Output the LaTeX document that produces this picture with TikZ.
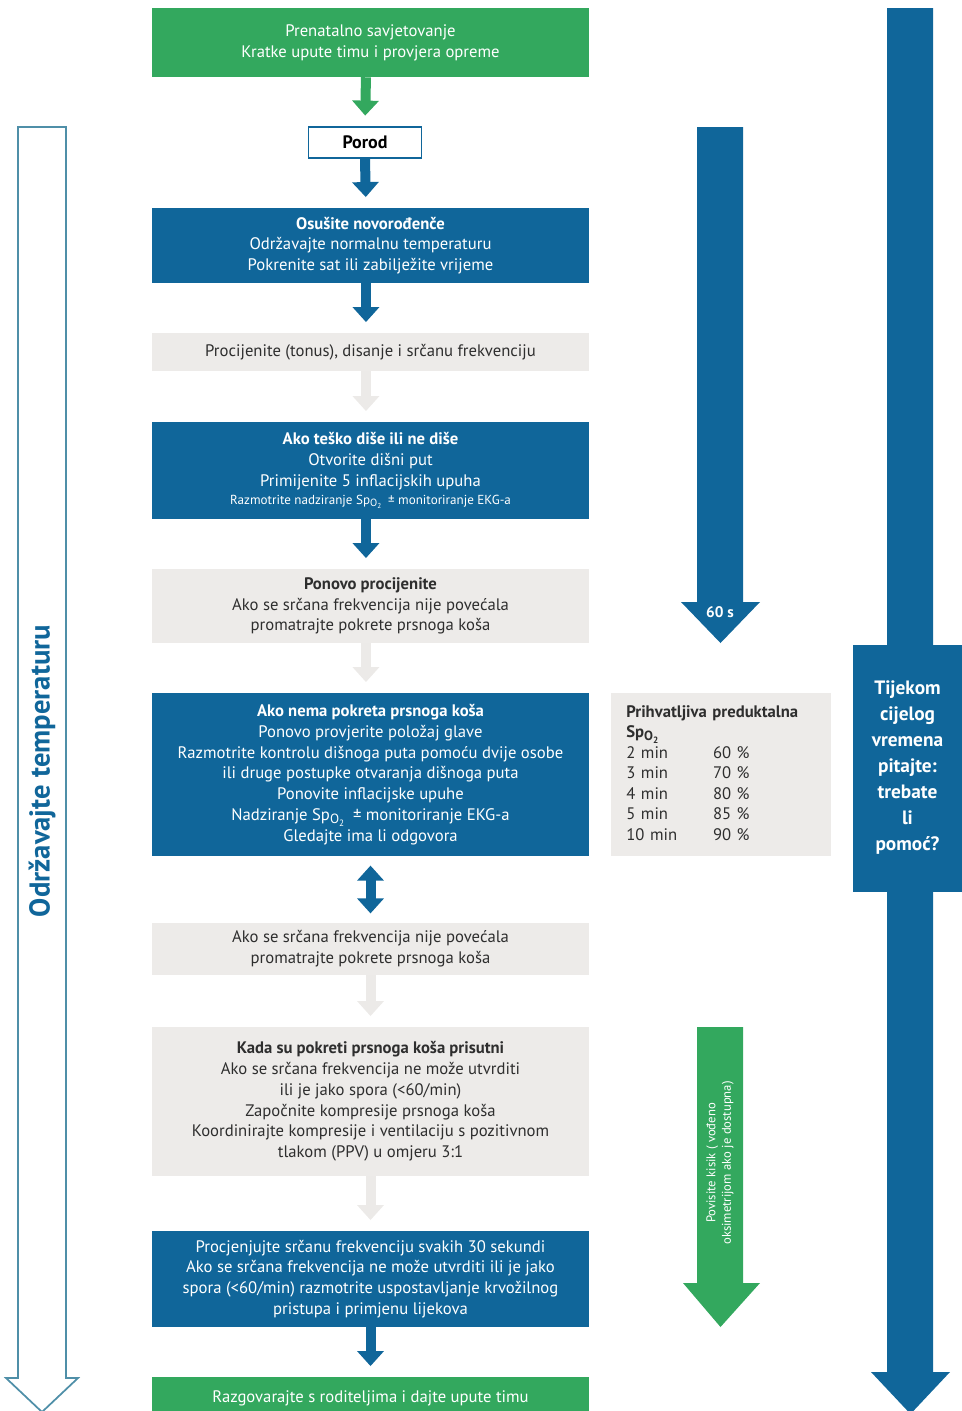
\documentclass[tikz,border=0pt]{standalone}
\usepackage{fontspec}
\setmainfont{PT Sans}
\usetikzlibrary{arrows.meta}
\definecolor{rcblue}{HTML}{10669A}
\definecolor{rcgreen}{HTML}{33A85E}
\definecolor{rcgrey}{HTML}{EDEBE9}
\definecolor{rcfaint}{HTML}{ECEAE8}
\definecolor{rctext}{HTML}{2E2E2E}
\definecolor{rcoutline}{HTML}{4F8FA8}
\newcommand\rcSpO{Sp\raisebox{-0.35ex}{\scalebox{0.8}{O}\raisebox{-0.35ex}{\scalebox{0.55}{2}}}}
\begin{document}
\begin{tikzpicture}[x=0.75pt,y=-0.75pt,
  box/.style={rectangle, minimum width=327.75pt, align=center, inner sep=0pt,
    font=\fontsize{12.5}{15.6}\selectfont},
  bluebox/.style={box, fill=rcblue, text=white},
  greenbox/.style={box, fill=rcgreen, text=white},
  greybox/.style={box, fill=rcgrey, text=rctext},
  flow/.style={line width=7.5pt, -{Triangle[width=19.5pt,length=11.25pt]}, shorten >=8pt},
  bflow/.style={flow, draw=rcblue},
  gflow/.style={flow, draw=rcgreen},
  fflow/.style={flow, draw=rcfaint},
  dflow/.style={line width=7.5pt, {Triangle[width=19.5pt,length=11.25pt]}-{Triangle[width=19.5pt,length=11.25pt]}, shorten >=7pt, shorten <=7pt, draw=rcblue}
]
\useasboundingbox (0,0) rectangle (962,1411);

% side shapes
\fill[rcblue] (887,8) -- (933,8) -- (933,1372) -- (950,1372) -- (910.5,1414) -- (871,1372) -- (887,1372) -- cycle;
\fill[rcblue] (697,127) -- (743,127) -- (743,602) -- (760,602) -- (720.5,643) -- (681,602) -- (697,602) -- cycle;
\fill[rcgreen] (697,1027) -- (743,1027) -- (743,1283) -- (760,1283) -- (720.5,1327) -- (683,1283) -- (697,1283) -- cycle;
\draw[rcoutline, line width=1.3pt, line join=miter] (18,127) -- (66,127) -- (66,1378) -- (78,1378) -- (42,1412) -- (6,1378) -- (18,1378) -- cycle;

\node[rotate=90, text=rcblue, font=\bfseries\fontsize{21.5}{25}\selectfont] (keep) at (42,771) {Održavajte temperaturu};
\node[text=white, font=\bfseries\fontsize{11.5}{13}\selectfont] (sixty) at (720,612) {60 s};
\node[rotate=90, text=white, align=center, font=\fontsize{9.5}{11.5}\selectfont] (oxy) at (720,1163) {Povisite kisik ( vođeno\\oksimetrijom ako je dostupna)};

% main flow
\node[greenbox, minimum height=51.75pt] (g1) at (370.5,42.5) {Prenatalno savjetovanje\\Kratke upute timu i provjera opreme};
\node[draw=rcblue, line width=1.1pt, fill=white, minimum width=84.75pt, minimum height=23.25pt, inner sep=0pt, font=\bfseries\fontsize{13.5}{15}\selectfont] (porod) at (365,142.5) {Porod};
\node[bluebox, minimum height=56.25pt] (b1) at (370.5,245.5) {\textbf{Osušite novorođenče}\\Održavajte normalnu temperaturu\\Pokrenite sat ili zabilježite vrijeme};
\node[greybox, minimum height=28.5pt] (gr1) at (370.5,352) {Procijenite (tonus), disanje i srčanu frekvenciju};
\node[bluebox, minimum height=72.75pt] (b2) at (370.5,470.5) {\textbf{Ako teško diše ili ne diše}\\Otvorite dišni put\\Primijenite 5 inflacijskih upuha\\[-2pt]{\fontsize{9.8}{11}\selectfont Razmotrite nadziranje \rcSpO\ \ ± monitoriranje EKG-a}};
\node[greybox, minimum height=55.5pt] (gr2) at (370.5,606) {\textbf{Ponovo procijenite}\\Ako se srčana frekvencija nije povećala\\promatrajte pokrete prsnoga koša};
\node[bluebox, minimum height=122.25pt] (b3) at (370.5,774.5) {\textbf{Ako nema pokreta prsnoga koša}\\Ponovo provjerite položaj glave\\Razmotrite kontrolu dišnoga puta pomoću dvije osobe\\ili druge postupke otvaranja dišnoga puta\\Ponovite inflacijske upuhe\\Nadziranje \rcSpO\ \ ± monitoriranje EKG-a\\Gledajte ima li odgovora};
\node[greybox, minimum height=39pt] (gr3) at (370.5,949) {Ako se srčana frekvencija nije povećala\\promatrajte pokrete prsnoga koša};
\node[greybox, minimum height=111.75pt] (gr4) at (370.5,1101.5) {\textbf{Kada su pokreti prsnoga koša prisutni}\\Ako se srčana frekvencija ne može utvrditi\\ili je jako spora (<60/min)\\Započnite kompresije prsnoga koša\\Koordinirajte kompresije i ventilaciju s pozitivnom\\tlakom (PPV) u omjeru 3:1};
\node[bluebox, minimum height=72pt] (b4) at (370.5,1279) {Procjenjujte srčanu frekvenciju svakih 30 sekundi\\Ako se srčana frekvencija ne može utvrditi ili je jako\\spora (<60/min) razmotrite uspostavljanje krvožilnog\\pristupa i primjenu lijekova};
\node[greenbox, minimum height=31.5pt] (g2) at (370.5,1398) {Razgovarajte s roditeljima i dajte upute timu};

% side boxes
\node[fill=rcgrey, text=rctext, minimum width=165pt, minimum height=122.25pt, inner xsep=11.25pt, inner ysep=0pt, text width=142pt, align=left, font=\fontsize{12.5}{15.4}\selectfont] (tbl) at (721,774.5)
 {\begin{tabular}{@{}p{65pt}@{}l@{}}
  \multicolumn{2}{@{}l@{}}{\textbf{Prihvatljiva preduktalna}}\\
  \multicolumn{2}{@{}l@{}}{\textbf{\rcSpO}}\\
  2 min & 60 \%\\
  3 min & 70 \%\\
  4 min & 80 \%\\
  5 min & 85 \%\\
  10 min & 90 \%
 \end{tabular}};
\node[fill=rcblue, text=white, align=center, minimum width=82pt, minimum height=185.25pt, inner sep=0pt, font=\bfseries\fontsize{14.5}{19.5}\selectfont] (help) at (907.5,768) {Tijekom\\cijelog\\vremena\\pitajte:\\trebate\\li\\pomoć?};

% connectors
\draw[gflow] ([xshift=-3.4pt]g1.south) -- (porod.north);
\draw[bflow] (porod.south) -- ([xshift=-3.4pt]b1.north);
\draw[bflow] ([xshift=-3.4pt]b1.south) -- ([xshift=-3.4pt]gr1.north);
\draw[fflow] ([xshift=-3.4pt]gr1.south) -- ([xshift=-3.4pt]b2.north);
\draw[bflow] ([xshift=-3.4pt]b2.south) -- ([xshift=-3.4pt]gr2.north);
\draw[fflow] ([xshift=-3.4pt]gr2.south) -- ([xshift=-3.4pt]b3.north);
\draw[dflow] (b3.south) -- (gr3.north);
\draw[fflow] (gr3.south) -- (gr4.north);
\draw[fflow] (gr4.south) -- (b4.north);
\draw[bflow] (b4.south) -- (g2.north);
\end{tikzpicture}
\end{document}
